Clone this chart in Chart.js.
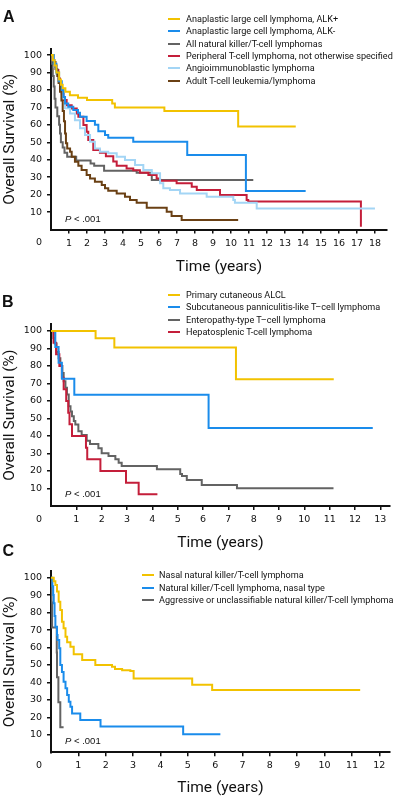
<!DOCTYPE html>
<html><head><meta charset="utf-8">
<script src="https://cdn.jsdelivr.net/npm/chart.js@4.4.1/dist/chart.umd.min.js"></script>
<style>
html,body{margin:0;padding:0;background:#fff;}
body{width:399px;height:800px;position:relative;overflow:hidden;color:#111;}
canvas{position:absolute;left:0;}
.letter{position:absolute;font:bold 16px 'Liberation Sans',Arial,sans-serif;line-height:16px;}
.legrow{position:absolute;height:12px;line-height:12px;white-space:nowrap;font-family:Roboto,sans-serif;font-size:9.1px;}
.sw{position:absolute;height:2px;}
.pval{position:absolute;font-family:'Liberation Sans',Arial,sans-serif;font-size:9.5px;line-height:12px;white-space:nowrap;}
</style></head>
<body>
<canvas id="cA" width="399" height="280" style="top:0px"></canvas>
<canvas id="cB" width="399" height="285" style="top:275px"></canvas>
<canvas id="cC" width="399" height="255" style="top:545px"></canvas>
<script>
// ---------- DATA ----------
const yTickValues = [0,10,20,30,40,50,60,70,80,90,100];
const xTicksA = [1,2,3,4,5,6,7,8,9,10,11,12,13,14,15,16,17,18];
const xTicksB = [1,2,3,4,5,6,7,8,9,10,11,12,13];
const xTicksC = [1,2,3,4,5,6,7,8,9,10,11,12];

// Panel A
const labelsA = ["Anaplastic large cell lymphoma, ALK+","Anaplastic large cell lymphoma, ALK-","All natural killer/T-cell lymphomas","Peripheral T-cell lymphoma, not otherwise specified","Angioimmunoblastic lymphoma","Adult T-cell leukemia/lymphoma"];
const alkPosT = [0,0.1,0.2,0.3,0.45,0.55,0.65,0.8,1.05,1.5,2.0,3.4,3.55,6.3,10.4,13.6];
const alkPosS = [100,97,94,90,86,83,81,79,77,75.5,74.2,72.3,70,68,59,59];
const alkNegT = [0,0.15,0.3,0.45,0.6,0.7,0.78,0.96,1.24,1.5,1.61,1.98,2.44,2.63,3.0,3.18,4.57,7.57,10.83,14.15];
const alkNegS = [100,95,90,85,80,76,72.3,70.4,68.5,67,64.6,62.2,60,56.4,54.2,52.6,50.3,42.7,22.1,22.1];
const nktAllT = [0,0.05,0.1,0.15,0.2,0.25,0.35,0.45,0.5,0.55,0.65,0.75,0.9,1.4,2.2,2.4,2.95,4.76,5.6,11.24];
const nktAllS = [100,95,88,82,75,70,65,60,55,50,47,44,41.7,39.6,37.9,36.6,33.7,32.6,28.4,28.4];
const ptclT = [0,0.1,0.2,0.31,0.41,0.5,0.6,0.69,0.87,1.15,1.43,1.52,1.8,1.98,2.07,2.35,2.72,3.05,3.46,3.65,4.2,4.57,4.94,5.41,5.87,6.06,6.98,7.82,8.1,9.39,10.87,10.96,17.22];
const ptclS = [100,97,94,91.4,86.6,82.6,78,74.2,71.3,69.4,66.5,64.6,59.9,56,51.3,45.6,44,42,39,36.5,35,34,32.6,31.2,29.3,28,26.5,24.5,22.6,19.8,16.9,16,1.6];
const aitlT = [0,0.1,0.2,0.3,0.4,0.5,0.6,0.78,1.06,1.33,1.61,1.89,2.17,2.44,2.72,3.18,3.65,4.11,4.67,5.13,5.6,6.06,6.24,6.61,7.17,8.65,10.13,10.22,11.43,18.0];
const aitlS = [100,97,93,89,85,80,75,69.5,66.5,62.7,58,54.2,50.3,46.5,44.6,43.7,41.7,39.8,37,34.1,32.2,26.5,23.6,22.6,20.7,18.8,16.9,15.4,12.1,12.1];
const atllT = [0,0.13,0.25,0.35,0.42,0.5,0.58,0.65,0.72,0.78,0.83,0.9,1.06,1.15,1.33,1.52,1.7,1.98,2.17,2.44,2.82,3.0,3.18,3.65,4.11,4.39,4.76,5.32,6.43,6.7,7.26,10.4];
const atllS = [100,96,92,88,84,79,74,68,62,55,49.4,46.5,44.6,41.7,38.9,36.6,34.1,31.2,29.3,27.4,25.5,23.6,22.2,20.7,18.8,16.9,15.4,12.5,10.2,7.7,5.4,5.4];

// Panel B
const labelsB = ["Primary cutaneous ALCL","Subcutaneous panniculitis-like T\u2013cell lymphoma","Enteropathy-type T\u2013cell lymphoma","Hepatosplenic T-cell lymphoma"];
const pcalclT = [0,1.76,2.5,7.3,11.16];
const pcalclS = [100,95.8,90.5,72.4,72.4];
const spltclT = [0,0.17,0.3,0.43,0.92,6.22,12.7];
const spltclS = [100,90.9,81.8,72.7,63.6,44.5,44.5];
const eatlT = [0,0.1,0.15,0.22,0.3,0.37,0.45,0.5,0.57,0.63,0.7,0.77,0.83,0.9,0.96,1.08,1.21,1.41,1.54,1.87,2.0,2.27,2.54,2.67,2.79,4.18,5.1,5.17,5.36,5.95,7.34,11.15];
const eatlS = [100,96,92.9,88,84.4,80,76,71.3,67.5,63.7,57,54,51.3,48.5,46.6,42.7,40.6,37.3,35.4,33,30.1,28.6,26.7,24.7,22.9,21,18.3,17.1,14.9,12,10.1,10.1];
const hstclT = [0,0.1,0.2,0.33,0.43,0.5,0.6,0.68,0.73,0.83,1.38,1.43,1.95,2.96,3.46,4.2];
const hstclS = [100,93.3,86.7,80,73.3,66.7,60,53.3,46.7,40,33.3,26.7,20,13.3,6.7,6.7];

// Panel C
const labelsC = ["Nasal natural killer/T-cell lymphoma","Natural killer/T-cell lymphoma, nasal type","Aggressive or unclassifiable natural killer/T-cell lymphoma"];
const nasalT = [0,0.1,0.16,0.22,0.28,0.34,0.4,0.46,0.53,0.59,0.71,0.83,1.14,1.62,2.23,2.34,2.6,2.9,3.02,5.16,5.89,11.3];
const nasalS = [100,98,95.8,92,86.2,81.5,74.8,71,66.2,63,60.5,56.1,52.8,50,49,47.7,47,46.5,42.3,38.7,35.7,35.7];
const nasalTypeT = [0,0.05,0.08,0.1,0.13,0.16,0.22,0.24,0.3,0.34,0.4,0.46,0.53,0.59,0.65,0.71,0.77,1.07,1.81,4.83,6.19];
const nasalTypeS = [100,95,90,85.3,78,71.9,67.2,64.3,59.6,50,46,40.4,36.6,32.8,29,26.1,22.2,18.5,14.7,10.3,10.3];
const aggrT = [0,0.02,0.04,0.21,0.22,0.27,0.34,0.46];
const aggrS = [100,85.7,71.4,57.1,42.9,28.6,14.3,14.3];

// ---------- STYLE ----------
const C_YEL='#F2C200', C_BLU='#1A8CEB', C_GRY='#636363', C_RED='#C41E3A', C_LBL='#A3D5F5', C_BRN='#6A4014';
const tickFont = "'DejaVu Sans', sans-serif";
const titleFont = "Roboto, sans-serif";

function series(label,t,s,color){return {label, data:t.map((x,i)=>({x, y:s[i]})), borderColor:color, backgroundColor:color, borderWidth:2, pointRadius:0, stepped:true, fill:false};}

function makeChart(id, p){
  return new Chart(document.getElementById(id), {
    type:'line',
    data:{datasets:p.datasets},
    options:{
      responsive:false, animation:false, devicePixelRatio:1,
      layout:{padding:{top:p.padTop,right:p.padRight,left:0,bottom:0}},
      plugins:{legend:{display:false},tooltip:{enabled:false}},
      scales:{
        x:{type:'linear',min:0,max:p.xmax,
          afterBuildTicks:sc=>{sc.ticks=p.xTicks.map(v=>({value:v}));},
          afterFit:sc=>{sc.height=p.xAxisH;},
          border:{display:true,color:'#111',width:2},
          grid:{display:true,drawOnChartArea:false,drawTicks:true,tickLength:4,color:'#111',lineWidth:1.5},
          ticks:{autoSkip:false,maxRotation:0,minRotation:0,padding:4,color:'#111',font:{family:tickFont,size:9.5},callback:v=>String(v)},
          title:{display:true,text:'Time (years)',color:'#111',font:{family:titleFont,size:15.5},padding:{top:0,bottom:p.titlePadB}}
        },
        y:{type:'linear',min:0,max:p.ymax,
          afterBuildTicks:sc=>{sc.ticks=yTickValues.map(v=>({value:v}));},
          afterFit:sc=>{sc.width=51;},
          border:{display:true,color:'#111',width:2},
          grid:{display:true,drawOnChartArea:false,drawTicks:true,tickLength:4,lineWidth:1.5,color:'#111',
                tickColor:c=>(c.tick && c.tick.value===0)?'rgba(0,0,0,0)':'#111'},
          ticks:{autoSkip:false,padding:5,color:'#111',font:{family:tickFont,size:9.5,lineHeight:1.4},callback:v=>v===0?['','','0']:String(v)},
          title:{display:true,text:'Overall Survival (%)',color:'#111',font:{family:titleFont,size:15.5},padding:{top:1,bottom:0}}
        }
      }
    }
  });
}

makeChart('cA',{padTop:49,padRight:12,xmax:18.67,ymax:103.5,xAxisH:50.5,titlePadB:4,xTicks:xTicksA,
  datasets:[series(labelsA[0],alkPosT,alkPosS,C_YEL),series(labelsA[1],alkNegT,alkNegS,C_BLU),series(labelsA[5],atllT,atllS,C_BRN),
            series(labelsA[4],aitlT,aitlS,C_LBL),series(labelsA[3],ptclT,ptclS,C_RED),series(labelsA[2],nktAllT,nktAllS,C_GRY)]});
makeChart('cB',{padTop:49.3,padRight:9,xmax:13.38,ymax:103.8,xAxisH:54,titlePadB:7.8,xTicks:xTicksB,
  datasets:[series(labelsB[0],pcalclT,pcalclS,C_YEL),series(labelsB[1],spltclT,spltclS,C_BLU),series(labelsB[3],hstclT,hstclS,C_RED),series(labelsB[2],eatlT,eatlS,C_GRY)]});
makeChart('cC',{padTop:26,padRight:9,xmax:12.39,ymax:103.8,xAxisH:47.7,titlePadB:2.5,xTicks:xTicksC,
  datasets:[series(labelsC[0],nasalT,nasalS,C_YEL),series(labelsC[1],nasalTypeT,nasalTypeS,C_BLU),series(labelsC[2],aggrT,aggrS,C_GRY)]});

// ---------- HTML overlays (legends, letters, p-values) ----------
function addDiv(cls,left,top,html){const d=document.createElement('div');d.className=cls;d.style.left=left+'px';d.style.top=top+'px';d.innerHTML=html;document.body.appendChild(d);return d;}
function legend(labels,colors,swX,swW,textX,y0,dy){
  labels.forEach((lab,i)=>{
    const cy=y0+i*dy;
    const s=addDiv('sw',swX,cy-1,'');s.style.width=swW+'px';s.style.background=colors[i];
    const t=addDiv('legrow',textX,cy-6,'');t.textContent=lab;
  });
}
legend(labelsA,[C_YEL,C_BLU,C_GRY,C_RED,C_LBL,C_BRN],168,12,186,19,12.35);
legend(labelsB,[C_YEL,C_BLU,C_GRY,C_RED],168,12,186,295,12.4);
legend(labelsC,[C_YEL,C_BLU,C_GRY],142,12,159,575,12.5);
addDiv('letter',3,9.4,'A');
addDiv('letter',2,294,'B');
addDiv('letter',2.5,543,'C');
addDiv('pval',65,213.3,'<i>P</i> &lt; .001');
addDiv('pval',65,488,'<i>P</i> &lt; .001');
addDiv('pval',65,735.3,'<i>P</i> &lt; .001');
</script>
</body></html>
